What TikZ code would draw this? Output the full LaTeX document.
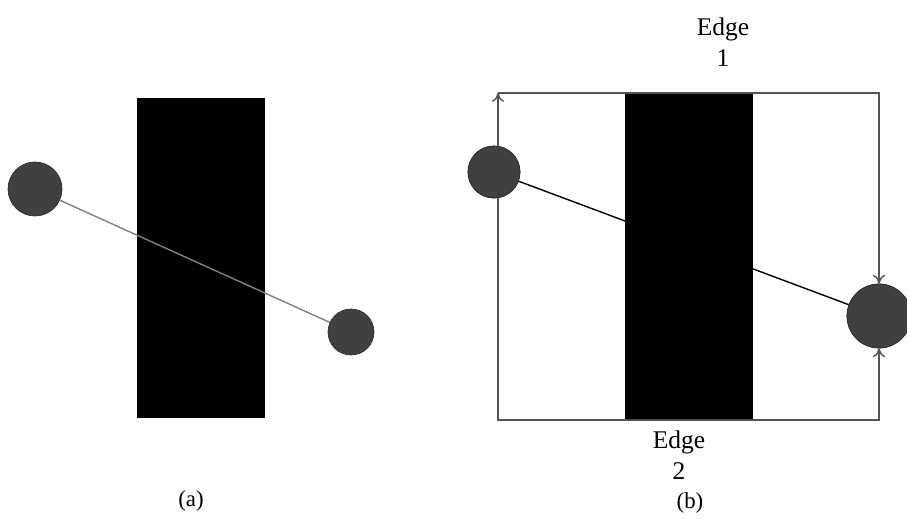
\documentclass[tikz,border=0pt]{standalone}
\usepackage{fontspec}
\setmainfont{Liberation Serif}
\usetikzlibrary{arrows.meta}
\definecolor{ballgray}{RGB}{64,64,64}
\definecolor{edgegray}{RGB}{85,85,85}

\begin{document}
\begin{tikzpicture}[x=0.02cm, y=-0.02cm,
    ball/.style={circle, fill=ballgray, draw=ballgray!70!black, inner sep=0pt},
    edgeline/.style={draw=edgegray, line width=0.8pt},
    edgetip/.style={-{To[length=5pt, width=7pt]}},
    edgelabel/.style={font=\fontsize{14.5}{18}\selectfont, align=center},
    caption/.style={font=\fontsize{13}{15}\selectfont}]
    \useasboundingbox (0,0) rectangle (907,518);

    % (a) straight segment across the obstacle
    \fill[black] (137,98) rectangle (265,418);
    \node[ball, minimum size=1.08cm] (a1) at (35,189) {};
    \node[ball, minimum size=0.92cm] (a2) at (351,332) {};
    \draw[gray, line width=0.8pt] (a1) -- (a2);
    \node[caption] (capa) at (191,501) {(a)};

    % (b) segment hidden behind the obstacle, edges round the box
    \node[ball, minimum size=1.04cm] (b1) at (494,172) {};
    \node[ball, minimum size=1.28cm] (b2) at (879,316) {};
    \draw[black, line width=0.8pt] (b1) -- (b2);
    \fill[black] (625,93) rectangle (753,420);

    \coordinate (split) at (498,376);
    \coordinate (tl) at (498,93);
    \coordinate (tr) at (879,93);
    \coordinate (bl) at (498,420);
    \coordinate (br) at (879,420);
    \draw[edgeline, edgetip] (split) -- (tl);
    \draw[edgeline, edgetip] (tl) -- (tr) -- (b2.north);
    \draw[edgeline, edgetip] (split) -- (bl) -- (br) -- (b2.south);

    % circles on top of the edges
    \node[ball, minimum size=1.04cm] at (b1) {};
    \node[ball, minimum size=1.28cm] at (b2) {};

    \node[edgelabel] (edge1) at (723,42) {Edge\\1};
    \node[edgelabel] (edge2) at (679,455) {Edge\\2};
    \node[caption] (capb) at (690,503) {(b)};
\end{tikzpicture}
\end{document}
